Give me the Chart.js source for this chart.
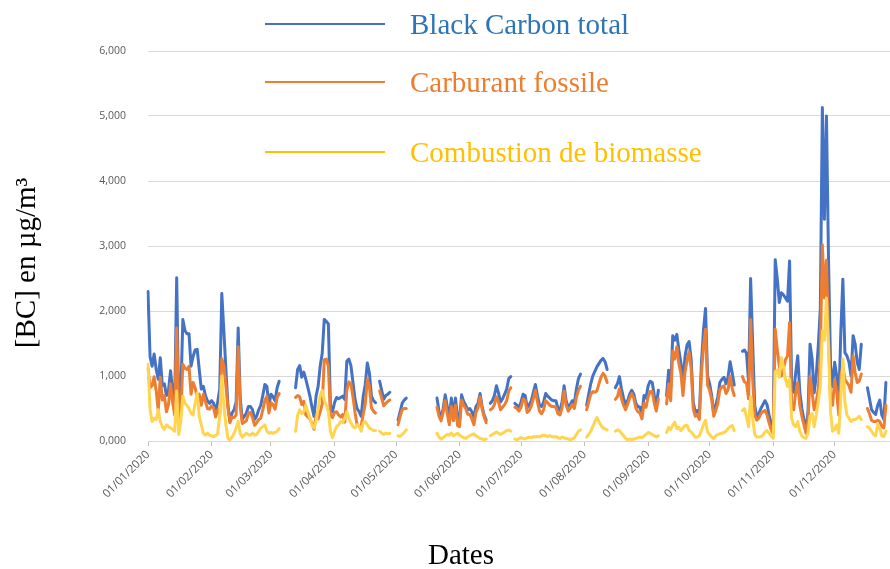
<!DOCTYPE html>
<html>
<head>
<meta charset="utf-8">
<title>Black Carbon 2020</title>
<script src="https://cdn.jsdelivr.net/npm/chart.js@4.4.1/dist/chart.umd.min.js"></script>
<style>
  html, body { margin: 0; padding: 0; background: #fff; overflow: hidden; }
  #wrap { width: 890px; height: 569px; }
</style>
</head>
<body>
<div id="wrap"><canvas id="myChart" width="890" height="569"></canvas></div>
<script>
// daily values, µg/m3, from 01/01/2020 (null = no measurement)
const blackCarbonTotal = [
  2.30,1.30,1.15,1.34,1.10,0.95,1.28,0.85,0.88,0.70,0.78,1.08,0.78,0.55,2.51,0.45,0.70,1.87,1.70,1.65,1.65,1.15,1.30,1.40,1.41,1.10,0.80,0.84,0.70,0.62,0.58, // jan
  0.62,0.58,0.45,0.60,0.80,2.27,1.70,1.10,0.55,0.30,0.43,0.48,0.60,1.74,0.65,0.33,0.38,0.43,0.53,0.53,0.48,0.33,0.38,0.48,0.55,0.70,0.87,0.84,0.55, // feb
  0.72,0.68,0.62,0.82,0.92,null,null,null,null,null,null,null,0.82,1.10,1.16,0.98,1.06,0.95,0.82,0.69,0.52,0.38,0.69,0.84,1.15,1.35,1.87,1.84,1.80,0.55,0.45, // mar
  0.59,0.67,0.65,0.67,0.69,0.64,1.23,1.26,1.16,0.90,0.64,0.50,0.45,0.38,0.69,0.87,1.20,1.05,0.69,0.62,0.59,null,0.92,0.78,0.64,0.70,0.72,0.75,null,null, // apr
  null,0.32,0.45,0.58,0.63,0.66,null,null,null,null,null,null,null,null,null,null,null,null,null,null,0.66,0.45,0.35,0.50,0.71,0.53,0.35,0.66,0.40,0.66,0.37, // may
  0.32,0.71,0.61,0.55,0.48,0.50,0.45,0.37,0.53,0.58,0.73,0.53,0.40,0.32,null,0.58,0.62,0.70,0.85,0.74,0.60,0.65,0.72,0.80,0.96,0.99,null,0.58,0.55,0.52, // jun
  0.60,0.72,0.70,0.52,0.56,0.62,0.75,0.87,0.70,0.55,0.53,0.60,0.73,0.69,0.66,0.63,0.62,0.62,0.50,0.47,0.60,0.85,0.62,0.52,0.56,0.62,0.58,0.80,0.96,1.03,null, // jul
  null,0.55,0.72,0.88,1.00,1.07,1.14,1.19,1.24,1.27,1.22,1.10,null,null,null,0.82,0.88,0.99,0.80,0.66,0.55,0.62,0.72,0.78,0.72,0.58,0.53,0.52,0.42,0.70,0.66, // aug
  0.85,0.92,0.90,0.70,0.55,0.78,null,null,null,0.70,1.09,0.80,1.62,1.55,1.64,1.40,1.20,0.90,1.30,1.48,1.53,1.25,0.60,0.44,0.47,0.41,1.20,1.70,2.04,1.00, // sep
  0.88,0.70,0.42,0.55,0.68,0.90,0.95,0.98,0.88,0.98,1.22,1.05,0.86,null,null,null,1.38,1.40,1.35,0.91,2.50,1.50,0.55,0.37,0.42,0.50,0.56,0.62,0.56,0.40,0.26, // oct
  0.13,2.79,2.50,2.13,2.28,2.25,2.20,2.15,2.77,0.90,0.75,1.05,1.31,0.75,0.50,0.33,0.15,0.45,1.49,1.26,0.74,1.00,1.46,2.03,5.13,3.41,5.00,2.80,1.15,0.84, // nov
  1.21,1.00,0.55,1.67,2.49,1.36,1.31,1.21,1.00,1.62,1.49,1.21,1.10,1.49,null,null,0.82,0.65,0.48,0.44,0.41,0.55,0.63,0.40,0.33,0.90 // dec
];

const carburantFossile = [
  1.12,0.82,0.85,0.99,0.77,0.47,0.98,0.63,0.70,0.45,0.56,0.88,0.60,0.40,1.74,0.35,0.40,1.18,1.12,1.10,1.15,0.72,0.90,0.82,0.67,0.72,0.55,0.72,0.61,0.50,0.49,
  0.54,0.51,0.37,0.48,0.40,1.27,1.15,0.85,0.51,0.28,0.37,0.36,0.40,1.45,0.53,0.27,0.29,0.31,0.43,0.44,0.36,0.24,0.28,0.33,0.35,0.48,0.62,0.69,0.43,
  0.59,0.56,0.49,0.67,0.73,null,null,null,null,null,null,null,0.67,0.70,0.68,0.56,0.61,0.40,0.37,0.34,0.27,0.18,0.39,0.34,0.45,0.57,1.25,1.26,1.15,0.40,0.36,
  0.44,0.45,0.40,0.37,0.41,0.29,0.78,0.91,0.88,0.68,0.44,0.25,0.22,0.23,0.41,0.57,0.95,0.85,0.51,0.46,0.43,null,0.77,0.66,0.54,0.58,0.61,0.63,null,null,
  null,0.25,0.38,0.48,0.50,0.50,null,null,null,null,null,null,null,null,null,null,null,null,null,null,0.52,0.38,0.31,0.44,0.62,0.42,0.25,0.53,0.31,0.55,0.24,
  0.22,0.63,0.55,0.50,0.41,0.41,0.34,0.25,0.44,0.51,0.68,0.49,0.37,0.28,null,0.48,0.50,0.56,0.68,0.60,0.48,0.52,0.56,0.62,0.77,0.82,null,0.52,0.50,0.46,
  0.52,0.64,0.63,0.44,0.47,0.54,0.65,0.78,0.60,0.46,0.42,0.48,0.62,0.59,0.55,0.53,0.53,0.52,0.42,0.40,0.51,0.77,0.55,0.46,0.51,0.56,0.50,0.67,0.78,0.84,null,
  null,0.48,0.60,0.72,0.76,0.75,0.77,0.88,0.98,1.04,1.00,0.90,null,null,null,0.64,0.68,0.80,0.65,0.55,0.48,0.57,0.66,0.73,0.66,0.51,0.45,0.43,0.34,0.58,0.52,
  0.68,0.76,0.76,0.58,0.46,0.65,null,null,null,0.57,0.88,0.62,1.38,1.26,1.45,1.19,1.04,0.70,1.06,1.24,1.37,1.11,0.50,0.38,0.41,0.33,1.04,1.45,1.72,0.86,
  0.78,0.64,0.38,0.47,0.58,0.79,0.83,0.85,0.73,0.79,1.00,0.81,0.70,null,null,null,0.99,0.91,0.89,0.65,1.87,0.95,0.40,0.32,0.35,0.42,0.45,0.47,0.40,0.28,0.18,
  0.10,1.72,1.41,1.15,1.00,1.10,1.25,1.31,1.82,0.55,0.48,0.75,0.90,0.55,0.38,0.25,0.12,0.32,1.00,0.75,0.48,0.60,0.80,1.30,3.02,2.20,2.78,1.60,0.60,0.55,
  0.95,0.75,0.40,1.00,1.15,0.95,0.90,0.85,0.75,1.31,1.05,0.90,0.92,1.03,null,null,0.50,0.42,0.32,0.30,0.30,0.32,0.30,0.22,0.20,0.55
];

const combustionBiomasse = [
  1.18,0.48,0.30,0.35,0.33,0.48,0.30,0.22,0.18,0.25,0.22,0.20,0.18,0.15,0.77,0.10,0.30,0.69,0.58,0.55,0.50,0.43,0.40,0.58,0.74,0.38,0.25,0.12,0.09,0.12,0.09,
  0.08,0.07,0.08,0.12,0.40,1.00,0.55,0.25,0.04,0.02,0.06,0.12,0.20,0.30,0.12,0.06,0.09,0.12,0.10,0.09,0.12,0.09,0.10,0.15,0.20,0.22,0.25,0.15,0.12,
  0.13,0.12,0.13,0.15,0.19,null,null,null,null,null,null,null,0.15,0.40,0.48,0.42,0.45,0.55,0.45,0.35,0.25,0.20,0.30,0.50,0.70,0.78,0.62,0.55,0.45,0.15,0.05,
  0.15,0.22,0.25,0.30,0.28,0.35,0.45,0.35,0.28,0.22,0.20,0.25,0.23,0.15,0.28,0.30,0.25,0.20,0.18,0.16,0.16,null,0.15,0.12,0.10,0.12,0.11,0.12,null,null,
  null,0.08,0.07,0.10,0.13,0.17,null,null,null,null,null,null,null,null,null,null,null,null,null,null,0.12,0.06,0.03,0.05,0.08,0.10,0.09,0.12,0.08,0.10,0.12,
  0.09,0.07,0.05,0.04,0.06,0.08,0.10,0.11,0.08,0.06,0.04,0.03,0.02,0.03,null,0.08,0.10,0.12,0.14,0.12,0.10,0.12,0.14,0.16,0.17,0.15,null,0.03,0.02,0.04,
  0.05,0.04,0.03,0.05,0.06,0.05,0.07,0.06,0.07,0.06,0.08,0.09,0.08,0.07,0.08,0.07,0.06,0.07,0.05,0.04,0.06,0.05,0.04,0.03,0.02,0.03,0.05,0.10,0.15,0.17,null,
  null,0.06,0.10,0.15,0.22,0.30,0.36,0.30,0.24,0.20,0.19,0.17,null,null,null,0.15,0.17,0.16,0.12,0.08,0.04,0.02,0.03,0.02,0.03,0.04,0.05,0.06,0.05,0.08,0.10,
  0.13,0.12,0.10,0.08,0.06,0.08,null,null,null,0.13,0.21,0.18,0.24,0.29,0.19,0.21,0.16,0.20,0.24,0.24,0.16,0.14,0.10,0.06,0.06,0.08,0.16,0.25,0.32,0.14,
  0.10,0.06,0.04,0.08,0.10,0.11,0.12,0.13,0.15,0.19,0.22,0.24,0.16,null,null,null,0.47,0.50,0.37,0.22,0.68,0.35,0.10,0.06,0.06,0.07,0.09,0.14,0.16,0.12,0.08,
  0.04,1.07,1.09,0.98,1.28,1.15,0.95,0.84,0.95,0.35,0.25,0.22,0.30,0.15,0.08,0.05,0.04,0.12,0.38,0.42,0.22,0.40,0.60,0.85,1.70,1.55,2.20,1.45,0.45,0.15,
  0.18,0.25,0.12,0.65,1.26,0.60,0.40,0.35,0.30,0.33,0.33,0.35,0.38,0.33,null,null,0.22,0.20,0.15,0.10,0.08,0.25,0.20,0.08,0.07,0.15
];

const seriesNames = ['Black Carbon total', 'Carburant fossile', 'Combustion de biomasse'];
const yTicks = [0, 1, 2, 3, 4, 5, 6];

// one label per day, the axis only shows the 1st of each month
const nbDays = 363;
const dayLabels = [];
for (let i = 0; i < nbDays; i++) {
    const d = new Date(2020, 0, 1 + i);
    const dd = String(d.getDate()).padStart(2, '0');
    const mm = String(d.getMonth() + 1).padStart(2, '0');
    dayLabels.push(dd + '/' + mm + '/' + d.getFullYear());
}

const lineColors = ['#4472C4', '#ED7D31', '#FFD54F'];
const legendLineColors = ['#4472C4', '#ED7D31', '#FFC000'];
const legendTextColors = ['#2E75B6', '#ED7D31', '#FFC000'];
const serif = "'Liberation Serif', 'Times New Roman', serif";

// legend, axis titles (drawn by hand, the legend sits inside the plot)
const extraText = {
    id: 'extraText',
    afterDraw(chart) {
        const ctx = chart.ctx;
        const rows = [24, 82, 152];
        ctx.save();
        ctx.font = '29px ' + serif;
        ctx.textBaseline = 'middle';
        ctx.textAlign = 'left';
        for (let i = 0; i < seriesNames.length; i++) {
            ctx.strokeStyle = legendLineColors[i];
            ctx.lineWidth = 2;
            ctx.beginPath();
            ctx.moveTo(265, rows[i]);
            ctx.lineTo(385, rows[i]);
            ctx.stroke();
            ctx.fillStyle = legendTextColors[i];
            ctx.fillText(seriesNames[i], 410, rows[i] + 2);
        }
        ctx.fillStyle = '#000';
        ctx.textAlign = 'center';
        ctx.fillText('Dates', 461, 556);
        ctx.translate(27, 263);
        ctx.rotate(-Math.PI / 2);
        ctx.fillText('[BC] en µg/m³', 0, 0);
        ctx.restore();
    }
};

const data = {
    labels: dayLabels,
    datasets: [
        { label: seriesNames[0], data: blackCarbonTotal, borderColor: lineColors[0], order: 2 },
        { label: seriesNames[1], data: carburantFossile, borderColor: lineColors[1], order: 1 },
        { label: seriesNames[2], data: combustionBiomasse, borderColor: lineColors[2], order: 0 }
    ]
};

const config = {
    type: 'line',
    data: data,
    plugins: [extraText],
    options: {
        responsive: false,
        animation: false,
        devicePixelRatio: 1,
        spanGaps: false,
        layout: { padding: { top: 51, right: 0, bottom: 0, left: 0 } },
        elements: {
            point: { radius: 0 },
            line: { borderWidth: 3, tension: 0, borderCapStyle: 'round', borderJoinStyle: 'round' }
        },
        plugins: { legend: { display: false }, tooltip: { enabled: false } },
        scales: {
            x: {
                type: 'category',
                offset: false,
                grid: { drawOnChartArea: false, drawTicks: true, tickLength: 5, color: '#bfbfbf' },
                border: { display: true, color: '#d9d9d9' },
                ticks: {
                    autoSkip: false, minRotation: 45, maxRotation: 45,
                    font: { family: "'Open Sans', sans-serif", size: 11.5 },
                    color: '#595959', padding: 2
                },
                afterBuildTicks: function (scale) {
                    scale.ticks = scale.ticks.filter(t => dayLabels[t.value].startsWith('01/'));
                },
                afterFit: function (scale) { scale.height = 128; }
            },
            y: {
                min: 0,
                max: 6,
                grid: { color: '#d9d9d9', drawTicks: false },
                border: { display: false },
                ticks: {
                    font: { family: "'Open Sans', sans-serif", size: 10.5 },
                    color: '#595959',
                    padding: 22,
                    callback: v => v.toFixed(3).replace('.', ',')
                },
                afterBuildTicks: function (scale) {
                    scale.ticks = yTicks.map(v => ({ value: v }));
                },
                afterFit: function (scale) { scale.width = 148; }
            }
        }
    }
};

const myChart = new Chart(document.getElementById('myChart'), config);
</script>
</body>
</html>
